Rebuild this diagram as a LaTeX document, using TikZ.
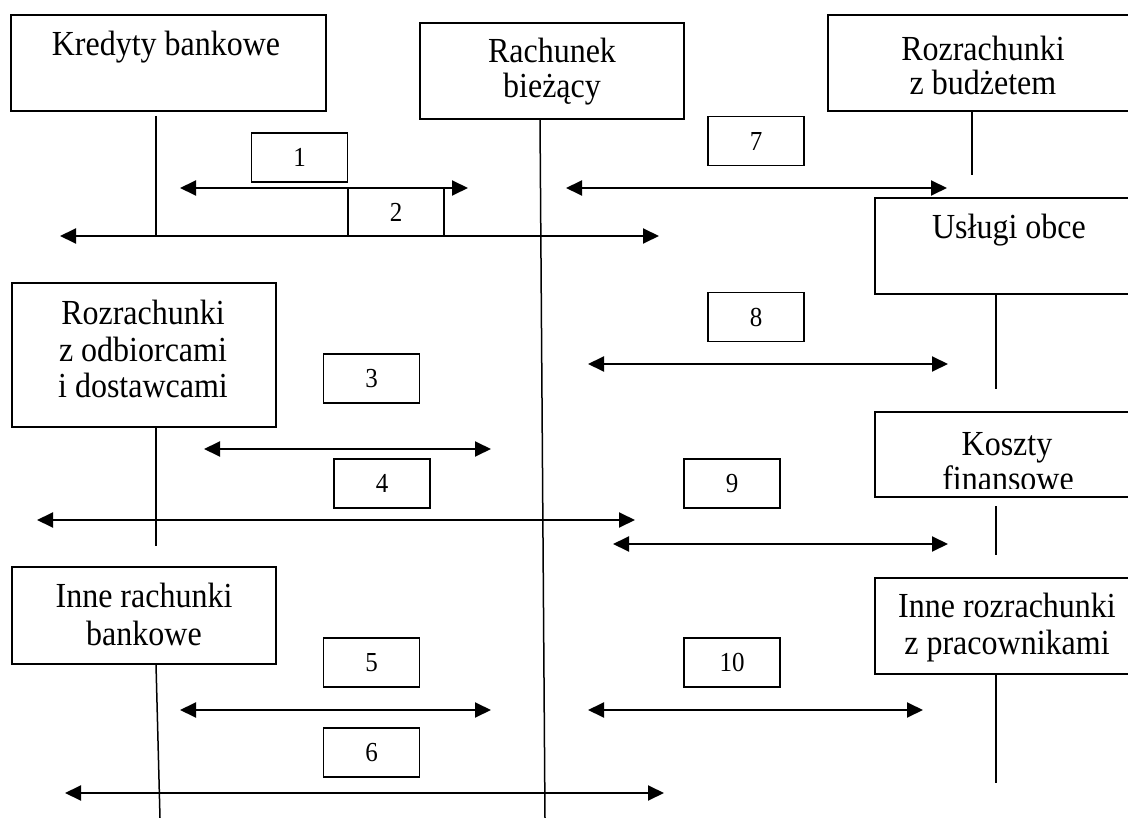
\documentclass[tikz,border=0pt]{standalone}
\usepackage{fontspec}
\usepackage{graphicx}
\setmainfont{Liberation Serif}
\usetikzlibrary{arrows.meta}

% slightly elongated glyphs, as in the printed chart
\newcommand{\tallglyphs}[1]{\scalebox{1}[1.1]{#1}}

\tikzset{
  acct/.style={draw, line width=1.5pt, rectangle, inner sep=0pt, fill=white},
  numbox/.style={draw, line width=1.5pt, rectangle, inner sep=0pt,
    minimum width=96pt, minimum height=49pt,
    font=\fontsize{25}{29}\selectfont},
  txt/.style={anchor=base, inner sep=0pt, text height=23pt, text depth=5pt,
    font=\fontsize{32}{37}\selectfont},
  tie/.style={line width=1.5pt},
  flow/.style={line width=1.9pt, {Triangle[length=16pt,width=15pt]}-{Triangle[length=16pt,width=15pt]}}
}

\begin{document}
\begin{tikzpicture}[x=1pt, y=-1pt]
\useasboundingbox (0,0) rectangle (1128,818);

% account boxes
\node[acct, minimum width=315pt, minimum height=96pt] (kb)  at (168.5,63) {};
\node[acct, minimum width=264pt, minimum height=96pt] (rb)  at (552,71) {};
\node[acct, minimum width=302pt, minimum height=96pt] (rzb) at (979,63) {};
\node[acct, minimum width=255pt, minimum height=96pt] (uo)  at (1002.5,246) {};
\node[acct, minimum width=264pt, minimum height=144pt] (rod) at (144,355) {};
\node[acct, minimum width=255pt, minimum height=85pt] (kf)  at (1002.5,454.5) {};
\node[acct, minimum width=264pt, minimum height=97pt] (irb) at (144,615.5) {};
\node[acct, minimum width=255pt, minimum height=96pt] (irp) at (1002.5,626) {};

% box captions
\node[txt] (kb1)  at (166,56)  {\tallglyphs{Kredyty bankowe}};
\node[txt] (rb1)  at (552,63)  {\tallglyphs{Rachunek}};
\node[txt] (rb2)  at (552,98)  {\tallglyphs{bieżący}};
\node[txt] (rzb1) at (983,61)  {\tallglyphs{Rozrachunki}};
\node[txt] (rzb2) at (983,95)  {\tallglyphs{z budżetem}};
\node[txt] (uo1)  at (1009,239) {\tallglyphs{Usługi obce}};
\node[txt] (rod1) at (143,325) {\tallglyphs{Rozrachunki}};
\node[txt] (rod2) at (143,362) {\tallglyphs{z odbiorcami}};
\node[txt] (rod3) at (143,398) {\tallglyphs{i dostawcami}};
\node[txt] (kf1)  at (1007,455) {\tallglyphs{Koszty}};
\begin{scope}
  \clip (875,412) rectangle (1128,488);
  \node[txt] (kf2) at (1008,490) {\tallglyphs{finansowe}};
\end{scope}
\node[txt] (irb1) at (144,607) {\tallglyphs{Inne rachunki}};
\node[txt] (irb2) at (144,645) {\tallglyphs{bankowe}};
\node[txt] (irp1) at (1007,617) {\tallglyphs{Inne rozrachunki}};
\node[txt] (irp2) at (1007,654) {\tallglyphs{z pracownikami}};

% hanging lines below the accounts
\coordinate (kbA)  at (156,116);  \coordinate (kbB)  at (156,237);
\coordinate (rbA)  at (540,119);  \coordinate (rbB)  at (545,818);
\coordinate (rzbA) at (972,111);  \coordinate (rzbB) at (972,175);
\coordinate (uoA)  at (996,294);  \coordinate (uoB)  at (996,389);
\coordinate (rodA) at (156,427);  \coordinate (rodB) at (156,546);
\coordinate (kfA)  at (996,506);  \coordinate (kfB)  at (996,555);
\coordinate (irbA) at (156,664);  \coordinate (irbB) at (160,818);
\coordinate (irpA) at (996,674);  \coordinate (irpB) at (996,783);
\foreach \s in {kb,rb,rzb,uo,rod,kf,irb,irp}
  \draw[tie] (\s A) -- (\s B);

% operation number boxes
\node[numbox] (n1)  at (299.5,157.5) {\tallglyphs{1}};
\node[numbox] (n2)  at (396,212)     {\tallglyphs{2}};
\node[numbox] (n3)  at (371.5,378.5) {\tallglyphs{3}};
\node[numbox] (n4)  at (382,483.5)   {\tallglyphs{4}};
\node[numbox] (n5)  at (371.5,662.5) {\tallglyphs{5}};
\node[numbox] (n6)  at (371.5,752.5) {\tallglyphs{6}};
\node[numbox] (n7)  at (756,141)     {\tallglyphs{7}};
\node[numbox] (n8)  at (756,317)     {\tallglyphs{8}};
\node[numbox] (n9)  at (732,483.5)   {\tallglyphs{9}};
\node[numbox] (n10) at (732,662.5)   {\tallglyphs{10}};

% two-way flows
\coordinate (f1L) at (180,188);  \coordinate (f1R) at (468,188);
\coordinate (f2L) at (60,236);   \coordinate (f2R) at (659,236);
\coordinate (f3L) at (204,449);  \coordinate (f3R) at (491,449);
\coordinate (f4L) at (37,520);   \coordinate (f4R) at (635,520);
\coordinate (f5L) at (180,710);  \coordinate (f5R) at (491,710);
\coordinate (f6L) at (65,793);   \coordinate (f6R) at (664,793);
\coordinate (f7L) at (566,188);  \coordinate (f7R) at (947,188);
\coordinate (f8L) at (588,364);  \coordinate (f8R) at (948,364);
\coordinate (f9L) at (613,544);  \coordinate (f9R) at (948,544);
\coordinate (f10L) at (588,710); \coordinate (f10R) at (923,710);
\foreach \k in {1,...,10}
  \draw[flow] (f\k L) -- (f\k R);
\end{tikzpicture}
\end{document}
